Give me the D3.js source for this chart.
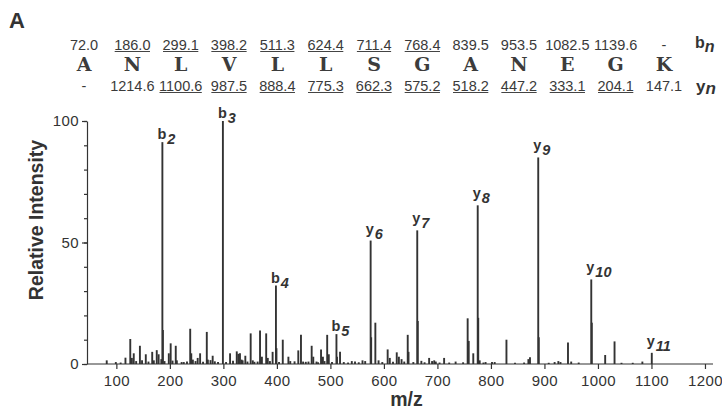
<!doctype html>
<html lang="en">
<head>
<meta charset="utf-8">
<title>MS/MS spectrum ANLVLLSGANEGK</title>
<script src="https://cdn.jsdelivr.net/npm/d3@7"></script>
<style>
  body { margin: 0; background: #fff; }
  svg { display: block; font-family: "Liberation Sans", Arial, sans-serif; }
  .seqnum { font-size: 14.5px; fill: #3a3a3a; }
  .res { font-family: "DejaVu Serif", "Liberation Serif", serif; font-weight: bold; font-size: 19px; fill: #3c3c3c; }
  .axis text { font-size: 15px; fill: #333; font-family: "Liberation Sans", Arial, sans-serif; letter-spacing: 0.4px; }
  .axis path, .axis line { stroke: #333; stroke-width: 1.2px; }
  .peak { stroke: #333; stroke-width: 1.9px; }
  .ion { font-size: 14.5px; font-weight: bold; fill: #333; }
  .title { font-weight: bold; fill: #333; font-size: 19.5px; }
</style>
</head>
<body>
<svg width="722" height="415"></svg>
<script>
// peptide sequence and fragment masses
var residues = ["A","N","L","V","L","L","S","G","A","N","E","G","K"];
var bIons = ["72.0","186.0","299.1","398.2","511.3","624.4","711.4","768.4","839.5","953.5","1082.5","1139.6","-"];
var bSeen = [0,1,1,1,1,1,1,1,0,0,0,0,0];
var yIons = ["-","1214.6","1100.6","987.5","888.4","775.3","662.3","575.2","518.2","447.2","333.1","204.1","147.1"];
var ySeen = [0,0,1,1,1,1,1,1,1,1,1,1,0];

// annotated fragment peaks
var ionMz = [186.0, 299.1, 398.2, 511.3, 575.2, 662.3, 775.3, 888.4, 987.5, 1100.6];
var ionInt = [91.3, 100, 32.3, 12.3, 50.8, 55, 65.3, 85, 34.8, 4.6];
var ionType = ["b","b","b","b","y","y","y","y","y","y"];
var ionNum = ["2","3","4","5","6","7","8","9","10","11"];

// remaining (unlabelled) peaks
var otherMz = [82, 99, 117, 126, 129, 132.5, 144, 155, 167, 170, 175.5, 179, 187, 190, 198, 201.5,
  211, 213, 222, 238, 240, 243, 252, 256.5, 269, 271, 280, 290, 312.5, 325, 328, 331, 336, 341, 345,
  351, 355, 368.5, 372, 380, 383, 392, 399.2, 411, 421.5, 425, 440, 445, 449, 465, 468, 474, 482.5,
  486, 494, 497, 512.3, 518, 525, 540, 546, 560, 565, 576.2, 584, 590, 607, 611, 624, 628, 633,
  644.5, 646, 663.3, 670, 684.5, 690, 694, 697, 712.5, 734, 756.5, 758.5, 767, 776.3, 779, 790,
  802, 807, 829, 870, 873, 889.4, 919, 926, 930, 944, 950, 988.5, 1013.5, 1031, 1083,
  108, 137, 148, 160, 184, 205, 226, 232, 248, 262, 276, 284, 305, 318, 334, 358, 364, 387, 404, 433,
  454, 459, 477, 489, 503, 533, 553, 597, 617, 638, 655, 676, 704, 722, 748, 786, 845, 862, 908, 964, 1044, 1065];
var otherInt = [1.5, 0.8, 2.6, 10.3, 2.5, 4.4, 7.5, 4, 5, 1.5, 5.7, 4, 14, 1.2, 4.4, 8.5,
  7.5, 1.5, 0.8, 14.5, 4.4, 1.8, 2.5, 4.4, 13.2, 1.8, 3.4, 0.8, 4.4, 5.2, 4.2, 4.4, 1.5, 3.4, 1,
  12.6, 1.5, 13.8, 3, 12.6, 2.5, 5, 6.5, 10, 3, 1.2, 5.6, 12, 1, 7.5, 3, 1, 6,
  3, 12, 4, 3, 5, 0.8, 1.2, 1, 1.5, 1.2, 11, 17, 1.5, 6, 2.5, 4.8, 3, 2,
  12, 5, 17.7, 1.3, 2.5, 1.2, 1.5, 1, 2.5, 1, 18.8, 9.5, 4.4, 19, 1.5, 0.8,
  0.8, 0.8, 10, 2, 2.8, 11, 0.8, 1.2, 0.8, 8.8, 1, 17, 3.7, 9.3, 1.0,
  0.6, 1.2, 1.5, 1.0, 2.0, 1.4, 0.8, 1.0, 1.2, 0.9, 1.6, 1.1, 0.8, 1.3, 1.8, 0.9, 1.0, 1.2, 0.8, 1.1,
  0.9, 1.0, 0.7, 1.2, 0.8, 0.6, 0.7, 0.8, 0.9, 1.0, 0.8, 0.7, 0.6, 0.6, 0.7, 0.6, 0.5, 0.6, 0.5, 0.6, 0.5, 0.5];

var xTicks = [100, 200, 300, 400, 500, 600, 700, 800, 900, 1000, 1100, 1200];

var svg = d3.select("svg");

// panel letter
svg.append("text").attr("x", 9).attr("y", 28)
  .style("font-size", "22px").style("font-weight", "bold").attr("fill", "#333").text("A");

// sequence header
var pos = d3.scalePoint().domain(d3.range(residues.length)).range([84, 664]);

function numberRow(vals, seen, y) {
  var g = svg.append("g");
  var t = g.selectAll("text").data(vals).enter().append("text")
    .attr("class", "seqnum")
    .attr("x", function(d, i) { return pos(i); })
    .attr("y", y)
    .attr("text-anchor", "middle")
    .text(function(d) { return d; });
  t.each(function(d, i) {
    if (!seen[i]) return;
    var bb = this.getBBox();
    g.append("line")
      .attr("x1", bb.x + 0.5).attr("x2", bb.x + bb.width - 0.5)
      .attr("y1", y + 2).attr("y2", y + 2)
      .attr("stroke", "#444").attr("stroke-width", 1);
  });
}
numberRow(bIons, bSeen, 49.5);
numberRow(yIons, ySeen, 90.5);

svg.append("g").selectAll("text").data(residues).enter().append("text")
  .attr("class", "res")
  .attr("x", function(d, i) { return pos(i); })
  .attr("y", 71)
  .attr("text-anchor", "middle")
  .text(function(d) { return d; });

var bn = svg.append("text").attr("x", 695).attr("y", 47.5).attr("fill", "#333")
  .style("font-weight", "bold").style("font-size", "16px");
bn.append("tspan").text("b");
bn.append("tspan").attr("dy", 4).style("font-style", "italic").text("n");
var yn = svg.append("text").attr("x", 696).attr("y", 92).attr("fill", "#333")
  .style("font-weight", "bold").style("font-size", "17px");
yn.append("tspan").text("y");
yn.append("tspan").attr("dy", 2).style("font-style", "italic").text("n");

// scales
var x = d3.scaleLinear().domain([47, 1215]).range([88, 713]);
var y = d3.scaleLinear().domain([0, 100]).range([364, 121]);

// peaks
var peaks = otherMz.map(function(m, i) { return { mz: m, v: otherInt[i] }; })
  .concat(ionMz.map(function(m, i) { return { mz: m, v: ionInt[i] }; }));

svg.append("g").selectAll("line").data(peaks).enter().append("line")
  .attr("class", "peak")
  .attr("x1", function(d) { return x(d.mz); })
  .attr("x2", function(d) { return x(d.mz); })
  .attr("y1", y(0))
  .attr("y2", function(d) { return y(d.v); });

// axes
var xAxis = svg.append("g").attr("class", "axis")
  .attr("transform", "translate(0," + y(0) + ")")
  .call(d3.axisBottom(x).tickValues(xTicks).tickFormat(d3.format("d"))
    .tickSize(5).tickSizeOuter(0).tickPadding(6));
xAxis.select(".domain").attr("d", "M87,0H713");

svg.append("g").attr("class", "axis")
  .attr("transform", "translate(87,0)")
  .call(d3.axisLeft(y).tickValues(d3.range(0, 101, 10)).tickSize(3).tickSizeOuter(0).tickFormat(""));
svg.append("g").attr("class", "axis")
  .attr("transform", "translate(87,0)")
  .call(d3.axisLeft(y).tickValues([0, 50, 100]).tickSize(5).tickSizeOuter(0).tickPadding(3))
  .select(".domain").remove();

// ion labels
var lab = svg.append("g").selectAll("text").data(ionMz).enter().append("text")
  .attr("class", "ion")
  .attr("x", function(d) { return x(d) - 5; })
  .attr("y", function(d, i) { return y(ionInt[i]) - (ionType[i] == "y" ? 7 : 3); });
lab.append("tspan").text(function(d, i) { return ionType[i]; });
lab.append("tspan").attr("dy", 5).attr("dx", 1).style("font-style", "italic")
  .text(function(d, i) { return ionNum[i]; });

// axis titles
svg.append("text").attr("class", "title")
  .attr("transform", "translate(42.5,220) rotate(-90)")
  .attr("text-anchor", "middle").text("Relative Intensity");
svg.append("text").attr("class", "title")
  .attr("x", 406.5).attr("y", 406)
  .attr("text-anchor", "middle").text("m/z");
</script>
</body>
</html>
